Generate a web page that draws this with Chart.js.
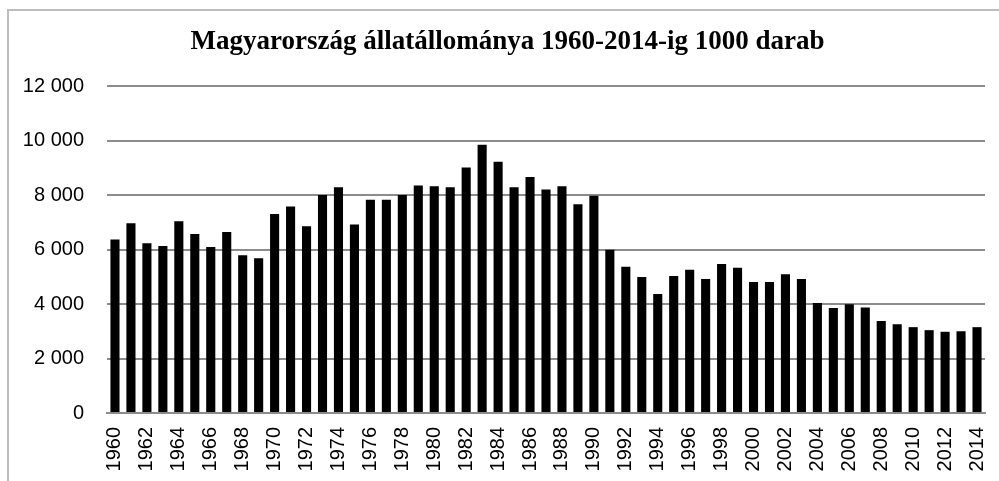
<!DOCTYPE html>
<html>
<head>
  <meta charset="UTF-8">
  <title>Magyarország állatállománya</title>
  <style>
    body {
      margin: 0;
      background: #fff;
      overflow: hidden;
    }
    .doboz {
      position: relative;
      width: 999px;
      height: 481px;
    }
    /* szürke keret balra és fent, mint az Excel diagramnál */
    .keret {
      position: absolute;
      left: 7px;
      top: 9px;
      width: 1000px;
      height: 480px;
      border-left: 2px solid #bdbdbd;
      border-top: 2px solid #bdbdbd;
      pointer-events: none;
    }
  </style>
</head>
<body>
  <div class="doboz">
    <canvas id="grafikon" width="999" height="481"></canvas>
    <div class="keret"></div>
  </div>

  <script src="https://cdn.jsdelivr.net/npm/chart.js"></script>
  <script>
    // évek és állomány (1000 darab)
    var evek = [
      '1960', '1961', '1962', '1963', '1964', '1965', '1966', '1967', '1968', '1969',
      '1970', '1971', '1972', '1973', '1974', '1975', '1976', '1977', '1978', '1979',
      '1980', '1981', '1982', '1983', '1984', '1985', '1986', '1987', '1988', '1989',
      '1990', '1991', '1992', '1993', '1994', '1995', '1996', '1997', '1998', '1999',
      '2000', '2001', '2002', '2003', '2004', '2005', '2006', '2007', '2008', '2009',
      '2010', '2011', '2012', '2013', '2014'
    ];
    var allomany = [
      6370, 6960, 6230, 6130, 7040, 6570, 6090, 6640, 5790, 5680,
      7300, 7580, 6850, 8000, 8280, 6920, 7830, 7830, 8000, 8350,
      8320, 8280, 9010, 9840, 9220, 8280, 8660, 8200, 8320, 7660,
      7970, 5990, 5370, 4990, 4370, 5030, 5260, 4920, 5470, 5330,
      4810, 4810, 5090, 4920, 4040, 3850, 3990, 3870, 3380, 3260,
      3150, 3040, 2980, 3000, 3150
    ];
    var yMin = 0;
    var yMax = 12000;
    var yLepes = 2000;
    var cim = 'Magyarország állatállománya 1960-2014-ig 1000 darab';

    // a cím közepe az eredeti (jobbra levágott) diagramterülethez igazodik
    var cimIgazitas = {
      id: 'cimIgazitas',
      afterLayout: function (chart) {
        if (chart.titleBlock) {
          chart.titleBlock.left = 8;
          chart.titleBlock.right = 1007;
        }
      }
    };

    var ctx = document.getElementById('grafikon').getContext('2d');
    var myChart = new Chart(ctx, {
      type: 'bar',
      data: {
        labels: evek,
        datasets: [{
          label: 'Állomány',
          data: allomany,
          backgroundColor: '#000',
          borderWidth: 0,
          categoryPercentage: 0.57,
          barPercentage: 1
        }]
      },
      options: {
        responsive: false,
        animation: false,
        layout: {
          padding: 0
        },
        plugins: {
          legend: { display: false },
          tooltip: { enabled: false },
          title: {
            display: true,
            text: cim,
            color: '#000',
            font: { family: 'Liberation Serif', size: 27, weight: 'bold', lineHeight: 1.2 },
            padding: { top: 26, bottom: 27.6 }
          }
        },
        scales: {
          x: {
            grid: { display: false, drawTicks: false },
            border: { display: true, color: '#8c8c8c', width: 2 },
            ticks: {
              autoSkip: false,
              minRotation: 90,
              maxRotation: 90,
              padding: 14,
              color: '#000',
              font: { family: 'Liberation Sans', size: 20 },
              callback: function (val, i) {
                return i % 2 === 0 ? evek[i] : '';
              }
            },
            afterFit: function (scale) {
              scale.height = 68;
              scale.paddingRight = 14;
            }
          },
          y: {
            min: yMin,
            max: yMax,
            grid: { color: '#8c8c8c', lineWidth: 2, drawTicks: false },
            border: { display: false },
            ticks: {
              stepSize: yLepes,
              padding: 23,
              color: '#000',
              font: { family: 'Liberation Sans', size: 20 },
              callback: function (value) {
                return String(value).replace(/\B(?=(\d{3})+(?!\d))/g, ' ');
              }
            },
            afterFit: function (scale) {
              scale.width = 107;
            }
          }
        }
      },
      plugins: [cimIgazitas]
    });
  </script>
</body>
</html>
